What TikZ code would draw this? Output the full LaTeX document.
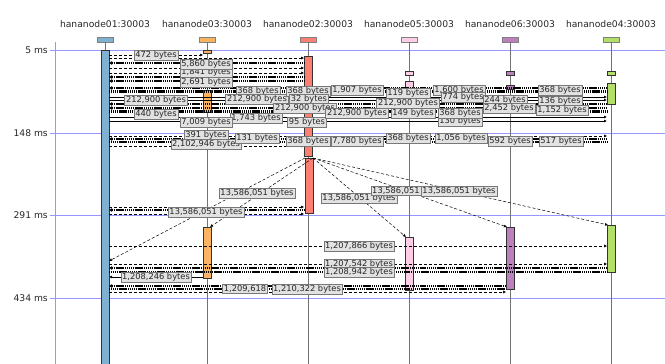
\documentclass[tikz,border=0pt]{standalone}
\usepackage{fontspec}
\setmainfont{DejaVu Sans}
\usetikzlibrary{arrows.meta}
\definecolor{cA}{RGB}{128,177,211}
\definecolor{cB}{RGB}{253,180,98}
\definecolor{cC}{RGB}{251,128,114}
\definecolor{cD}{RGB}{252,205,229}
\definecolor{cE}{RGB}{188,128,189}
\definecolor{cF}{RGB}{179,222,105}
\definecolor{axisblue}{RGB}{150,150,255}
\definecolor{lblfill}{RGB}{226,226,226}
\definecolor{lbldraw}{RGB}{120,120,120}
\tikzset{
  lbl/.style={draw=lbldraw, fill=lblfill, line width=0.6pt, inner xsep=1.3pt, inner ysep=0.9pt,
    font=\fontsize{8.3}{9}\selectfont, text=black!85},
  hdr/.style={font=\fontsize{9.2}{10}\selectfont, text=black!85},
  tick/.style={font=\fontsize{9.2}{10}\selectfont, text=black!85, anchor=east, inner sep=0pt},
  headbox/.style={draw=gray, line width=0.6pt, minimum width=16pt, minimum height=5pt, inner sep=0pt},
  life/.style={draw=gray!90!black, line width=0.6pt},
  bar/.style={draw=black!80, line width=0.6pt},
  axisline/.style={draw=axisblue, line width=0.7pt},
  dmsg/.style={densely dashed, line width=0.5pt, -{Latex[length=3pt,width=3pt]}},
  smsg/.style={line width=0.8pt, -{Latex[length=3pt,width=3pt]}},
  heavy/.style={line width=2.8pt, dash pattern=on 1.3pt off 0.6pt},
  lheavy/.style={line width=2.8pt, dash pattern=on 1.3pt off 0.6pt, {Latex[length=3pt,width=4pt]}-},
}
\newcommand\hmline[4]{\draw[#1] (#2,#4) -- (#3,#4);}
\begin{document}
\begin{tikzpicture}[x=1pt,y=-1pt]
\path[use as bounding box] (0,0) rectangle (665,364);
% time axis
\draw[axisline] (55,42) -- (55,364);
\foreach \yy in {50,133,215,298} { \draw[axisline] (50,\yy) -- (665,\yy); }
\node[tick] (t1) at (48,50) {5 ms};
\node[tick] (t2) at (48,133) {148 ms};
\node[tick] (t3) at (48,215) {291 ms};
\node[tick] (t4) at (48,298) {434 ms};
% headers
\node[hdr] (h1) at (105,24) {hananode01:30003};
\node[hdr] (h2) at (207,24) {hananode03:30003};
\node[hdr] (h3) at (308,24) {hananode02:30003};
\node[hdr] (h4) at (409,24) {hananode05:30003};
\node[hdr] (h5) at (510,24) {hananode06:30003};
\node[hdr] (h6) at (611,24) {hananode04:30003};
\node[headbox, fill=cA] (b1) at (105,39.5) {};
\node[headbox, fill=cB] (b2) at (207,39.5) {};
\node[headbox, fill=cC] (b3) at (308,39.5) {};
\node[headbox, fill=cD] (b4) at (409,39.5) {};
\node[headbox, fill=cE] (b5) at (510,39.5) {};
\node[headbox, fill=cF] (b6) at (611,39.5) {};
\coordinate (e1) at (105,364); \coordinate (e2) at (207,364); \coordinate (e3) at (308,364);
\coordinate (e4) at (409,364); \coordinate (e5) at (510,364); \coordinate (e6) at (611,364);
\draw[life] (b1.south) -- (e1); \draw[life] (b2.south) -- (e2); \draw[life] (b3.south) -- (e3);
\draw[life] (b4.south) -- (e4); \draw[life] (b5.south) -- (e5); \draw[life] (b6.south) -- (e6);
% activation bars
\filldraw[bar, fill=cA] (101,50) rectangle (109,365);
\filldraw[bar, fill=cB] (203,50) rectangle (211,53);
\filldraw[bar, fill=cB] (203,90) rectangle (211,112);
\filldraw[bar, fill=cB] (203,227) rectangle (211,278);
\filldraw[bar, fill=cC] (304,56) rectangle (312,156);
\filldraw[bar, fill=cC] (305,158) rectangle (313,213);
\filldraw[bar, fill=cD] (405,71) rectangle (413,75);
\filldraw[bar, fill=cD] (405,81) rectangle (413,88);
\filldraw[bar, fill=cD] (405,237) rectangle (413,290);
\filldraw[bar, fill=cE] (506,71) rectangle (514,75);
\filldraw[bar, fill=cE] (506,85) rectangle (514,89);
\filldraw[bar, fill=cE] (506,227) rectangle (514,289);
\filldraw[bar, fill=cF] (607,71) rectangle (615,75);
\filldraw[bar, fill=cF] (607,83) rectangle (615,104);
\filldraw[bar, fill=cF] (607,225) rectangle (615,272);
% top messages
\hmline{dmsg}{109}{203}{55}
\hmline{dmsg}{109}{304}{58}
\hmline{lheavy}{109}{304}{63}
\hmline{dmsg}{109}{304}{68}
\hmline{dmsg}{109}{304}{73}
\hmline{lheavy}{109}{304}{77}
\hmline{lheavy}{109}{304}{81}
\hmline{lheavy}{109}{607}{88}
\hmline{heavy}{109}{607}{91.5}
\hmline{smsg}{109}{607}{97}
\hmline{smsg}{109}{607}{100}
\hmline{lheavy}{109}{607}{104}
\hmline{lheavy}{109}{607}{108}
\hmline{heavy}{109}{607}{111.5}
\hmline{smsg}{109}{607}{117}
\hmline{smsg}{109}{607}{121}
% middle messages
\hmline{dmsg}{109}{607}{136}
\hmline{lheavy}{109}{607}{139}
\hmline{heavy}{109}{607}{142}
\hmline{dmsg}{109}{304}{146}
% broadcast from hananode02
\coordinate (src) at (313,158);
\draw[dmsg] (src) -- (210,227);
\draw[dmsg] (src) -- (406,237);
\draw[dmsg] (src) -- (507,227);
\draw[dmsg] (src) -- (608,225);
\draw[dmsg] (305,158) -- (109,261);
\hmline{dmsg}{109}{304}{207}
\hmline{lheavy}{109}{304}{210}
\hmline{dmsg}{109}{304}{214}
% bottom messages
\hmline{dmsg}{109}{607}{246}
\hmline{dmsg}{109}{607}{264}
\hmline{lheavy}{109}{607}{268}
\hmline{heavy}{109}{607}{272}
\hmline{smsg}{203}{109}{277}
\hmline{lheavy}{109}{506}{286}
\hmline{heavy}{109}{506}{289}
\hmline{dmsg}{109}{506}{292}
% labels, top
\node[lbl] (l1) at (156,55) {472 bytes};
\node[lbl] (l3) at (206,72) {1,841 bytes};
\node[lbl] (l2) at (206,64) {5,860 bytes};
\node[lbl] (l4) at (206,82) {2,691 bytes};
\node[lbl] (l5) at (258,91) {368 bytes};
\node[lbl] (l6) at (156,100) {212,900 bytes};
\node[lbl] (l7) at (257,99) {212,900 bytes};
\node[lbl] (l8) at (156,114) {440 bytes};
\node[lbl] (l9) at (256,118) {1,743 bytes};
\node[lbl] (l10) at (206,122) {7,009 bytes};
\node[lbl] (l11) at (308,91) {368 bytes};
\node[lbl] (l12) at (309,99) {32 bytes};
\node[lbl] (l14) at (307,122) {95 bytes};
\node[lbl] (l13) at (305,108) {212,900 bytes};
\node[lbl] (l15) at (357,90) {1,907 bytes};
\node[lbl] (l16) at (408,93) {119 bytes};
\node[lbl] (l17) at (459,90) {1,600 bytes};
\node[lbl] (l18) at (463,97) {774 bytes};
\node[lbl] (l19) at (408,103) {212,900 bytes};
\node[lbl] (l20) at (357,113) {212,900 bytes};
\node[lbl] (l21) at (413,113) {149 bytes};
\node[lbl] (l23) at (460,121) {130 bytes};
\node[lbl] (l22) at (460,113) {368 bytes};
\node[lbl] (l24) at (505,100) {244 bytes};
\node[lbl] (l25) at (560,101) {136 bytes};
\node[lbl] (l26) at (560,90) {368 bytes};
\node[lbl] (l27) at (509,108) {2,452 bytes};
\node[lbl] (l28) at (562,110) {1,152 bytes};
% labels, middle
\node[lbl] (m1) at (206,135) {391 bytes};
\node[lbl] (m2) at (206,144) {2,102,946 bytes};
\node[lbl] (m3) at (257,138) {131 bytes};
\node[lbl] (m4) at (308,141) {368 bytes};
\node[lbl] (m5) at (357,141) {7,780 bytes};
\node[lbl] (m6) at (408,138) {368 bytes};
\node[lbl] (m7) at (461,138) {1,056 bytes};
\node[lbl] (m8) at (510,141) {592 bytes};
\node[lbl] (m9) at (561,141) {517 bytes};
% labels, broadcast
\node[lbl] (n1) at (257,193) {13,586,051 bytes};
\node[lbl] (n2) at (206,212) {13,586,051 bytes};
\node[lbl] (n3) at (359,198) {13,586,051 bytes};
\node[lbl] (n4) at (396,191) {13,586,051};
\node[lbl] (n5) at (459,191) {13,586,051 bytes};
% labels, bottom
\node[lbl] (p1) at (359,246) {1,207,866 bytes};
\node[lbl] (p2) at (359,264.5) {1,207,542 bytes};
\node[lbl] (p3) at (359,272.5) {1,208,942 bytes};
\node[lbl] (p4) at (156,277) {1,208,246 bytes};
\node[lbl] (p5) at (245,289) {1,209,618};
\node[lbl] (p6) at (307,289) {1,210,322 bytes};
\end{tikzpicture}
\end{document}
